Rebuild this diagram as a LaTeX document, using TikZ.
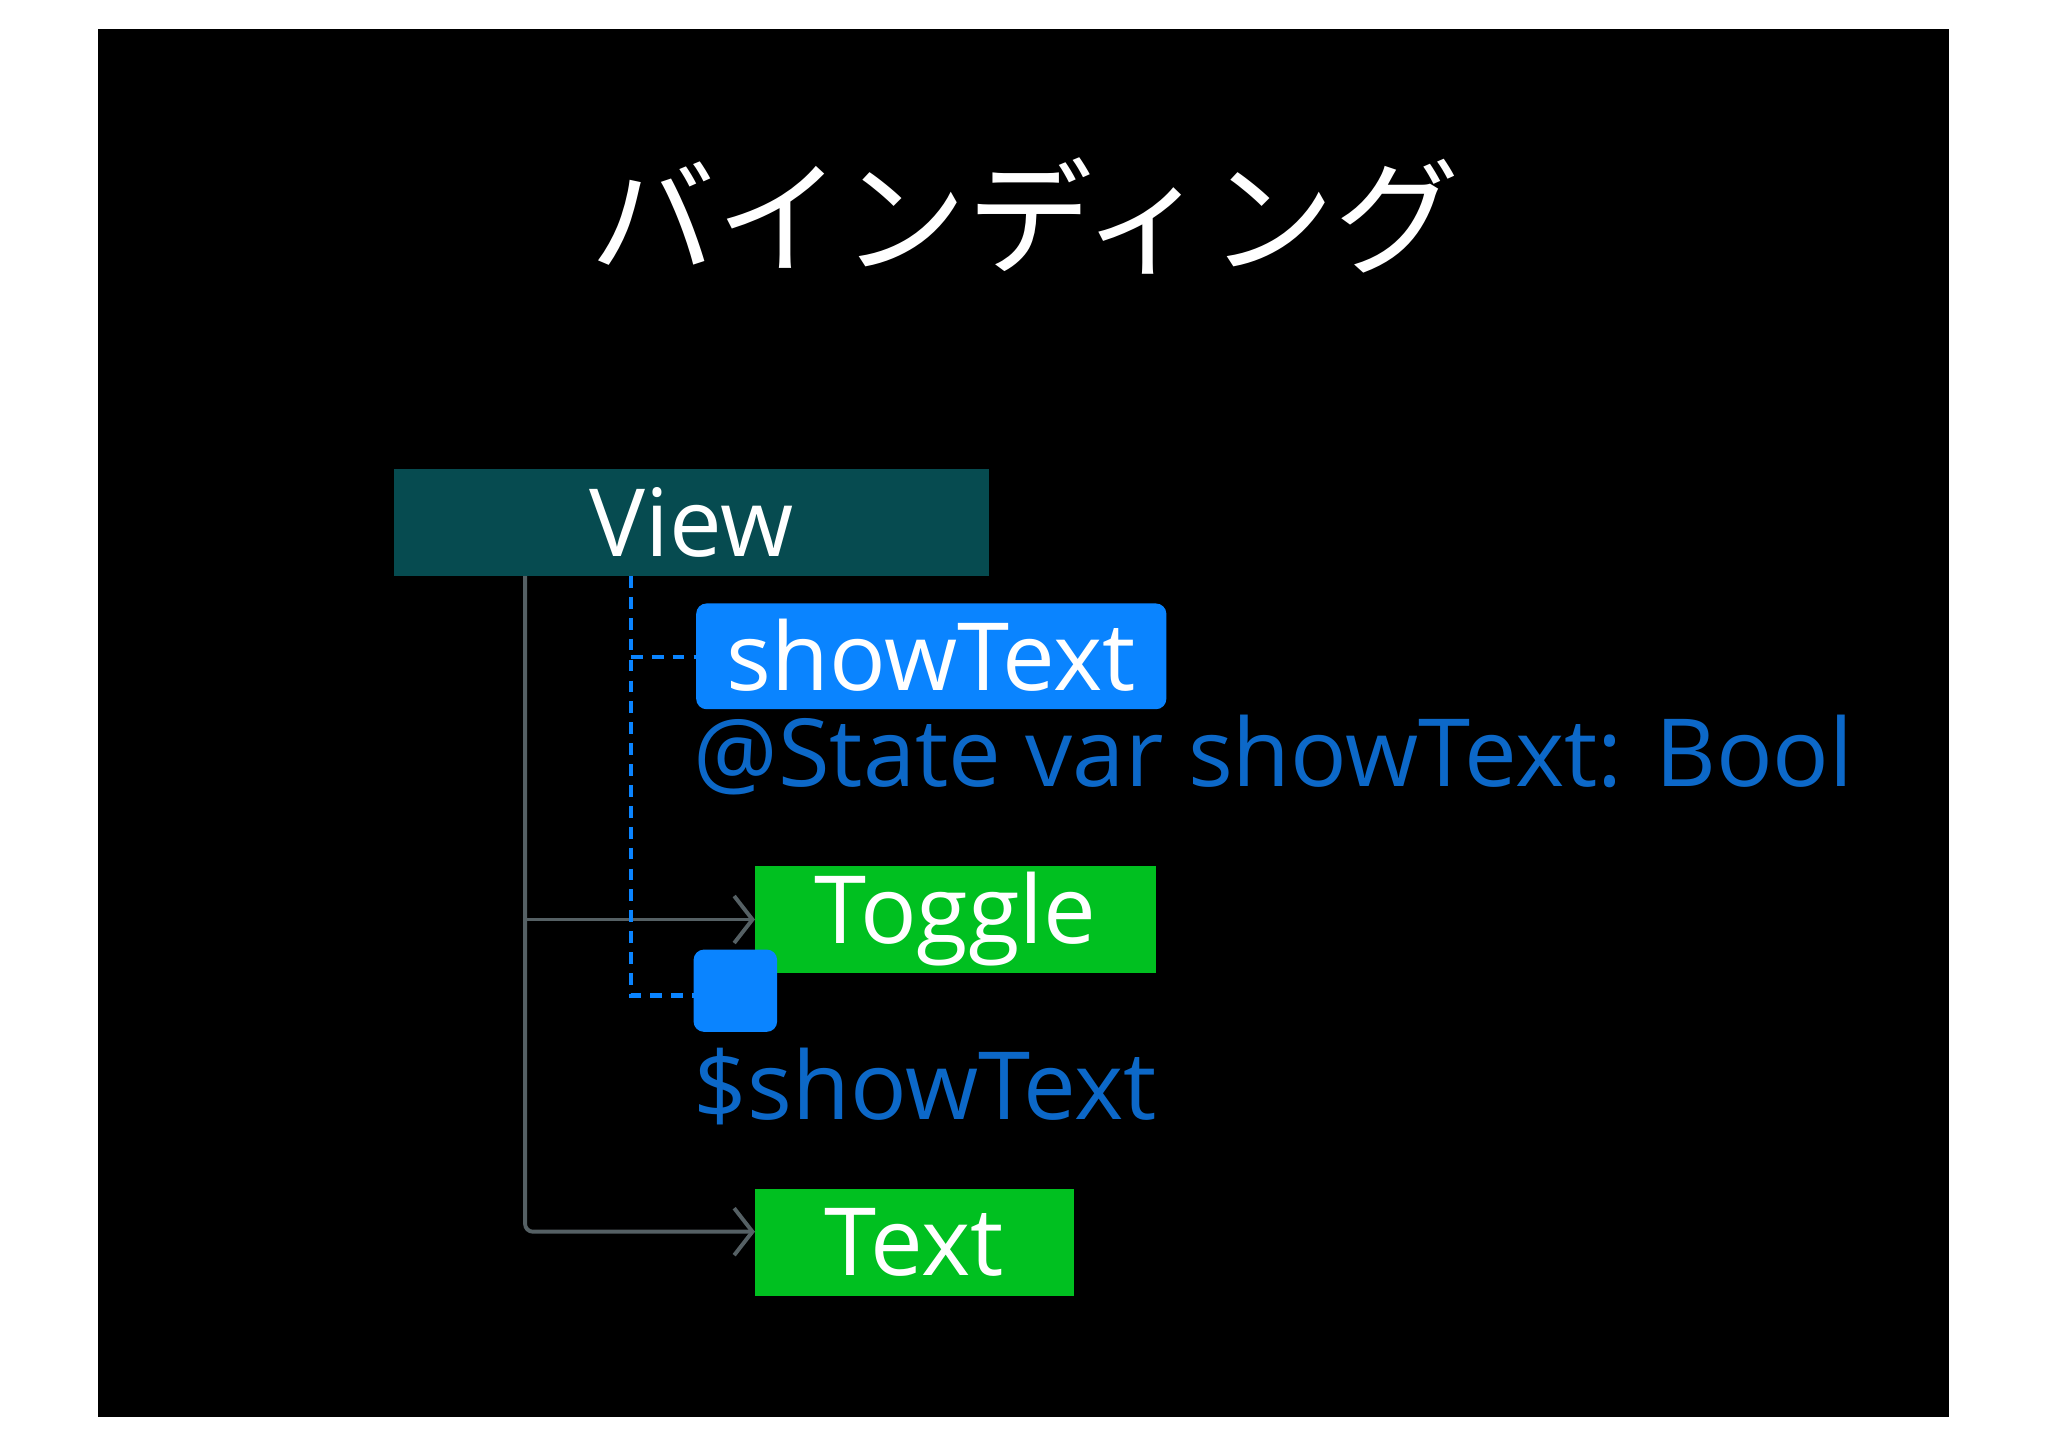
\documentclass[tikz,border=0pt]{standalone}
\usepackage{fontspec}
\setmainfont{Open Sans}
\newfontfamily\cjk{Noto Sans CJK JP}
\usetikzlibrary{arrows.meta}
\definecolor{teal}{RGB}{6,75,80}
\definecolor{sblue}{RGB}{10,132,255}
\definecolor{dblue}{RGB}{12,104,200}
\definecolor{sgreen}{RGB}{0,192,32}
\definecolor{lgray}{RGB}{85,96,100}
\tikzset{box/.style={inner sep=0pt,anchor=north west},
 gline/.style={draw=lgray,line width=3pt},
 dline/.style={draw=sblue,line width=3.5pt,dash pattern=on 9pt off 7pt},
 lbl/.style={font=\fontsize{72}{80}\selectfont}}
\begin{document}
\begin{tikzpicture}[x=1pt,y=-1pt]
\useasboundingbox (0,0) rectangle (1568,1109);
\fill[black] (75,22) rectangle (1492,1085);
\node[white,font=\cjk\fontsize{96}{100}\selectfont] (title) at (785,165) {バインディング};
\fill[teal] (302,359) rectangle (757,441);
\node[white,lbl] (view) at (529.5,400) {View};
\fill[sblue,rounded corners=8pt] (533,462) rectangle (893,543);
\node[white,lbl] (show) at (713,502) {showText};
\node[dblue,lbl,anchor=west,inner sep=0pt] (state) at (531,578) {@State var showText: Bool};
\fill[sgreen] (578,663) rectangle (885,745);
\node[white,lbl] (toggle) at (731.5,704) {Toggle};
\fill[sblue,rounded corners=8pt] (531,727) rectangle (595,790);
\node[dblue,lbl,anchor=west,inner sep=0pt] (dollar) at (531,832) {\$showText};
\fill[sgreen] (578,910) rectangle (822,992);
\node[white,lbl] (text) at (700,951) {Text};
\coordinate (g0) at (402,441);
\coordinate (g1) at (402,704);
\coordinate (g2) at (402,943);
\draw[gline,rounded corners=6pt,-{Straight Barb[length=14pt,width=36pt]}] (g0) -- (g2) -- (578,943);
\draw[gline,-{Straight Barb[length=14pt,width=36pt]}] (g1) -- (578,704);
\draw[dline] (483,441) -- (483,762) -- (531,762);
\draw[dline] (483,503) -- (533,503);
\end{tikzpicture}
\end{document}
